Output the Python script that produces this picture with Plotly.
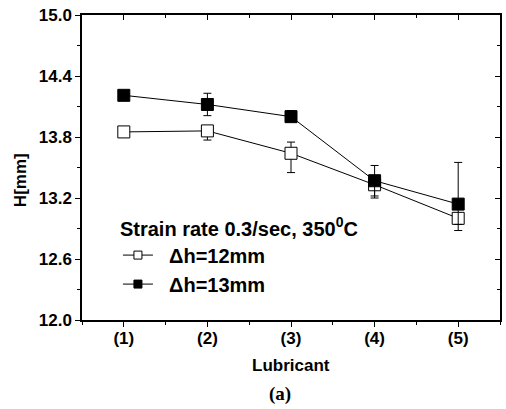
import plotly.graph_objects as go

categories = [1, 2, 3, 4, 5]
tick_labels = ["(1)", "(2)", "(3)", "(4)", "(5)"]
y_ticks = [12.0, 12.6, 13.2, 13.8, 14.4, 15.0]
y_minor = [12.3, 12.9, 13.5, 14.1, 14.7]

h12 = [13.85, 13.86, 13.64, 13.33, 13.00]
h12_err_plus = [0.03, 0.03, 0.11, 0.05, 0.05]
h12_err_minus = [0.03, 0.09, 0.19, 0.13, 0.12]

h13 = [14.21, 14.12, 14.00, 13.37, 13.14]
h13_err_plus = [0.03, 0.11, 0.06, 0.15, 0.41]
h13_err_minus = [0.03, 0.11, 0.05, 0.15, 0.20]

FONT = "Arial, Liberation Sans, sans-serif"
TICKFONT = dict(size=17, family=FONT, color="black")
NB = "\u00a0\u00a0"

fig = go.Figure()
fig.add_trace(go.Scatter(
    x=categories, y=h12, mode="lines+markers", name="h12", showlegend=False,
    line=dict(color="black", width=1),
    marker=dict(symbol="square", size=12, color="white", line=dict(color="black", width=1)),
    error_y=dict(type="data", symmetric=False, array=h12_err_plus, arrayminus=h12_err_minus,
                 color="black", thickness=1, width=4),
))
fig.add_trace(go.Scatter(
    x=categories, y=h13, mode="lines+markers", name="h13", showlegend=False,
    line=dict(color="black", width=1),
    marker=dict(symbol="square", size=12, color="black", line=dict(color="black", width=1)),
    error_y=dict(type="data", symmetric=False, array=h13_err_plus, arrayminus=h13_err_minus,
                 color="black", thickness=1, width=4),
))
# legend entries (smaller symbols, as in the reference legend)
fig.add_trace(go.Scatter(
    x=[None], y=[None], mode="lines+markers", name=NB + "<b>Δh=12mm</b>",
    line=dict(color="black", width=1),
    marker=dict(symbol="square", size=8, color="white", line=dict(color="black", width=1)),
))
fig.add_trace(go.Scatter(
    x=[None], y=[None], mode="lines+markers", name=NB + "<b>Δh=13mm</b>",
    line=dict(color="black", width=1),
    marker=dict(symbol="square", size=8, color="black", line=dict(color="black", width=1)),
))
# invisible trace for mirrored axes
fig.add_trace(go.Scatter(x=[1], y=[14], xaxis="x2", yaxis="y2", mode="markers",
                         marker=dict(opacity=0), showlegend=False, hoverinfo="skip"))

fig.update_layout(
    width=506, height=409,
    margin=dict(l=82, r=6, t=15, b=89),
    paper_bgcolor="white", plot_bgcolor="white",
    font=dict(family=FONT, color="black"),
    showlegend=True,
    legend=dict(
        x=0.086, y=0.362, xanchor="left", yanchor="top",
        bgcolor="rgba(0,0,0,0)",
        font=dict(size=20, family=FONT),
        title=dict(text="<b>Strain rate 0.3/sec, 350<sup>0</sup>C</b>", font=dict(size=20, family=FONT)),
        tracegroupgap=0,
    ),
    xaxis=dict(
        range=[0.5, 5.5], tickmode="array", tickvals=categories,
        ticktext=["<b>%s</b>" % t for t in tick_labels],
        tickfont=TICKFONT, ticklabelstandoff=-3,
        ticks="outside", ticklen=5, tickwidth=1, tickcolor="black",
        minor=dict(tickvals=[0.5, 1.5, 2.5, 3.5, 4.5, 5.5], ticks="outside", ticklen=3, tickcolor="black"),
        showline=True, linecolor="black", linewidth=1.5, showgrid=False, zeroline=False,
    ),
    yaxis=dict(
        range=[12.0, 15.0], tickmode="array", tickvals=y_ticks,
        ticktext=["<b>%.1f</b>" % v for v in y_ticks],
        tickfont=TICKFONT, ticklabeloverflow="allow",
        ticks="outside", ticklen=5, tickwidth=1, tickcolor="black",
        minor=dict(tickvals=y_minor, ticks="outside", ticklen=3, tickcolor="black"),
        showline=True, linecolor="black", linewidth=1.5, showgrid=False, zeroline=False,
    ),
    xaxis2=dict(
        overlaying="x", side="top", range=[0.5, 5.5], tickmode="array", tickvals=categories,
        showticklabels=False, ticks="inside", ticklen=5, tickwidth=1, tickcolor="black",
        minor=dict(tickvals=[1.5, 2.5, 3.5, 4.5], ticks="inside", ticklen=3, tickcolor="black"),
        showline=True, linecolor="black", linewidth=1.5, showgrid=False, zeroline=False,
    ),
    yaxis2=dict(
        overlaying="y", side="right", range=[12.0, 15.0], tickmode="array",
        tickvals=y_ticks, showticklabels=False,
        ticks="inside", ticklen=5, tickwidth=1, tickcolor="black",
        minor=dict(tickvals=y_minor, ticks="inside", ticklen=3, tickcolor="black"),
        showline=True, linecolor="black", linewidth=1.5, showgrid=False, zeroline=False,
    ),
    annotations=[
        dict(text="<b>Lubricant</b>", x=0.5, y=-0.148, xref="paper", yref="paper",
             xanchor="center", yanchor="middle", showarrow=False,
             font=dict(size=17, family=FONT)),
        dict(text="<b>H[mm]</b>", x=-0.148, y=0.459, xref="paper", yref="paper",
             xanchor="center", yanchor="middle", showarrow=False, textangle=-90,
             font=dict(size=17, family=FONT)),
        dict(text="<b>(a)</b>", x=0.474, y=-0.243, xref="paper", yref="paper",
             xanchor="center", yanchor="middle", showarrow=False,
             font=dict(size=19, family="Liberation Serif, Times New Roman, serif")),
    ],
)

fig.write_html("out.html", config={"displayModeBar": False},
               post_script="document.body.style.margin='0px';")
